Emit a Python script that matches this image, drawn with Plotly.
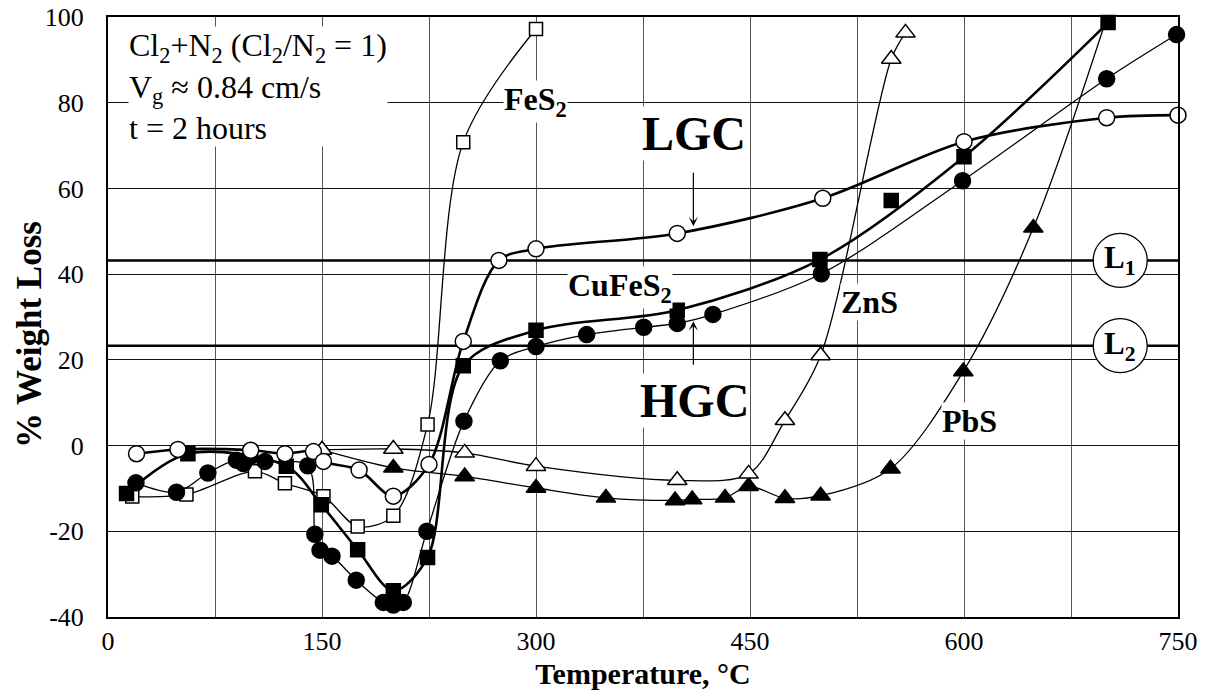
import plotly.graph_objects as go

# ---------------- data ----------------
# FeS2 (open squares)
fes2_x = [17, 55, 103, 124, 151, 175, 200, 224, 249, 300]
fes2_y = [-11.9, -11.4, -6.0, -8.8, -11.8, -18.9, -16.4, 4.9, 70.8, 97.2]

# CuFeS2 LGC (open circles)
cu_lgc_x = [20, 49, 100, 124, 144, 151, 176, 200, 225, 249, 274, 300, 399, 501, 600, 700, 750]
cu_lgc_y = [-1.9, -0.9, -1.1, -1.9, -1.4, -3.7, -5.7, -11.8, -4.4, 24.3, 43.2, 45.9, 49.5, 57.7, 70.9, 76.5, 77.1]

# CuFeS2 HGC (filled squares)
cu_hgc_x = [13, 56, 125, 149.5, 175, 200, 224, 249, 300, 399, 499, 549, 600, 701]
cu_hgc_y = [-11.2, -1.9, -4.8, -13.8, -24.3, -33.9, -26.1, 18.6, 26.9, 31.6, 43.4, 57.2, 67.4, 98.7]
cu_hgc_on_curve = [True] * 11 + [False] + [True] * 2

# filled circles
cu2_x = [19.6, 48, 70, 90, 95, 99.5, 110, 140, 145, 148.6, 157, 174, 193, 200, 207, 223.5,
         249.5, 275, 300, 335.5, 375.5, 399, 424, 500, 599, 700, 749]
cu2_y = [-8.7, -10.9, -6.4, -3.4, -4.2, -2.6, -3.7, -4.7, -20.7, -24.4, -25.8, -31.4, -36.6, -37.2, -36.6, -20.0,
         5.7, 19.8, 23.1, 25.9, 27.6, 28.5, 30.6, 40.1, 61.8, 85.6, 95.9]

# ZnS (open triangles)
zns_x = [150, 200, 250, 300, 399, 449, 474.5, 499.5, 549, 559]
zns_y = [-1.0, -0.8, -1.7, -4.8, -8.1, -6.6, 5.9, 21.0, 90.2, 96.3]

# PbS (filled triangles)
pbs_x = [150, 200, 250, 300, 349, 397.5, 409.5, 432.5, 449, 474.5, 499.5, 548.5, 599.5, 648.6, 700.5]
pbs_y = [-1.0, -5.2, -7.2, -9.9, -12.2, -12.8, -12.6, -12.2, -9.5, -12.3, -11.7, -5.4, 17.3, 50.8, 100.3]

L1 = 43.2
L2 = 23.3

x_tickvals = [0, 75, 150, 225, 300, 375, 450, 525, 600, 675, 750]
x_ticktext = ["0", "", "150", "", "300", "", "450", "", "600", "", "750"]
y_tickvals = [-40, -20, 0, 20, 40, 60, 80, 100]
y_ticktext = ["-40", "-20", "0", "20", "40", "60", "80", "100"]

FONT = "Liberation Serif, Times New Roman, serif"

fig = go.Figure()

def add_series(x, y, symbol, fill, lw, size, on_curve=None):
    if on_curve is None:
        lx, ly = x, y
    else:
        lx = [a for a, k in zip(x, on_curve) if k]
        ly = [b for b, k in zip(y, on_curve) if k]
    fig.add_trace(go.Scatter(x=lx, y=ly, mode="lines",
                             line=dict(color="black", width=lw, shape="spline", smoothing=0.9),
                             showlegend=False, hoverinfo="skip", cliponaxis=False))
    fig.add_trace(go.Scatter(x=x, y=y, mode="markers",
                             marker=dict(symbol=symbol, size=size, color=fill,
                                         line=dict(color="black", width=1.5)),
                             showlegend=False, cliponaxis=False))

add_series(pbs_x, pbs_y, "triangle-up", "black", 1.3, 17)
add_series(zns_x, zns_y, "triangle-up", "white", 1.3, 17)
add_series(fes2_x, fes2_y, "square", "white", 1.3, 13)
add_series(cu2_x, cu2_y, "circle", "black", 1.3, 16)
add_series(cu_hgc_x, cu_hgc_y, "square", "black", 2.6, 14, cu_hgc_on_curve)
add_series(cu_lgc_x, cu_lgc_y, "circle", "white", 2.6, 16)

shapes = []
for lv in (L1, L2):
    shapes.append(dict(type="line", xref="x", yref="y", x0=0, x1=750, y0=lv, y1=lv,
                       line=dict(color="black", width=2.6), layer="between"))
    shapes.append(dict(type="circle", xref="x", yref="y",
                       xsizemode="pixel", ysizemode="pixel",
                       xanchor=709.5, yanchor=lv, x0=-27, x1=27, y0=-27, y1=27,
                       fillcolor="white", line=dict(color="black", width=1.3), layer="above"))

annotations = []
def label(text, x, y, size, bg=True):
    annotations.append(dict(x=x, y=y, xref="x", yref="y", text=text, showarrow=False,
                            font=dict(family=FONT, size=size, color="black"),
                            bgcolor="white" if bg else None, borderpad=0))

label("<b>LGC</b>", 410.7, 72.8, 48)
label("<b>HGC</b>", 411, 10.5, 48)
label("<b>FeS<sub>2</sub></b>", 299.3, 80.3, 32)
label("<b>CuFeS<sub>2</sub></b>", 358.9, 36.8, 32)
label("<b>ZnS</b>", 533.9, 33.6, 32)
label("<b>PbS</b>", 604.2, 5.8, 32)
label("<b>L<sub>1</sub></b>", 709.5, L1, 31, bg=False)
label("<b>L<sub>2</sub></b>", 709.5, L2, 31, bg=False)

annotations.append(dict(x=14, y=97.8, xref="x", yref="y", xanchor="left", yanchor="top",
                        align="left", showarrow=False, bgcolor="white", borderpad=0,
                        text="Cl<sub>2</sub>+N<sub>2</sub> (Cl<sub>2</sub>/N<sub>2</sub> = 1)<br>"
                             "V<sub>g</sub> ≈ 0.84 cm/s<br>t = 2 hours",
                        font=dict(family=FONT, size=32, color="black")))

# y-axis title
annotations.append(dict(x=(29 - 108) / 1070, y=(617 - 335) / 600, xref="paper", yref="paper",
                        text="<b>% Weight Loss</b>", textangle=-90, showarrow=False,
                        xanchor="center", yanchor="middle",
                        font=dict(family=FONT, size=35, color="black")))

# arrows
for tip, tail in ((51.2, 64.0), (29.0, 18.5)):
    annotations.append(dict(x=410.3, y=tip, ax=410.3, ay=tail, xref="x", yref="y",
                            axref="x", ayref="y", text="", showarrow=True,
                            arrowhead=3, arrowsize=1.3, arrowwidth=1.2, arrowcolor="black"))

fig.update_layout(
    width=1200, height=689,
    margin=dict(l=100, r=30, t=9, b=80),
    paper_bgcolor="white", plot_bgcolor="white",
    font=dict(family=FONT, color="black"),
    shapes=shapes, annotations=annotations,
    xaxis=dict(range=[0, 750], tickvals=x_tickvals, ticktext=x_ticktext,
               showgrid=True, gridcolor="#555", gridwidth=1.2, automargin=False,
               showline=True, linecolor="black", linewidth=2, mirror=True,
               zeroline=False, ticks="", tickfont=dict(size=26, family=FONT),
               ticklabelstandoff=0, ticklabeloverflow="allow",
               title=dict(text="<b>Temperature, °C</b>", font=dict(size=30, family=FONT), standoff=8)),
    yaxis=dict(range=[-40, 100], tickvals=y_tickvals, ticktext=y_ticktext,
               showgrid=True, gridcolor="#111", gridwidth=1.1, automargin=False,
               showline=True, linecolor="black", linewidth=2, mirror=True,
               zeroline=False, ticks="", tickfont=dict(size=26, family=FONT),
               ticklabelstandoff=17, ticklabeloverflow="allow"),
)

fig.write_html("out.html")
